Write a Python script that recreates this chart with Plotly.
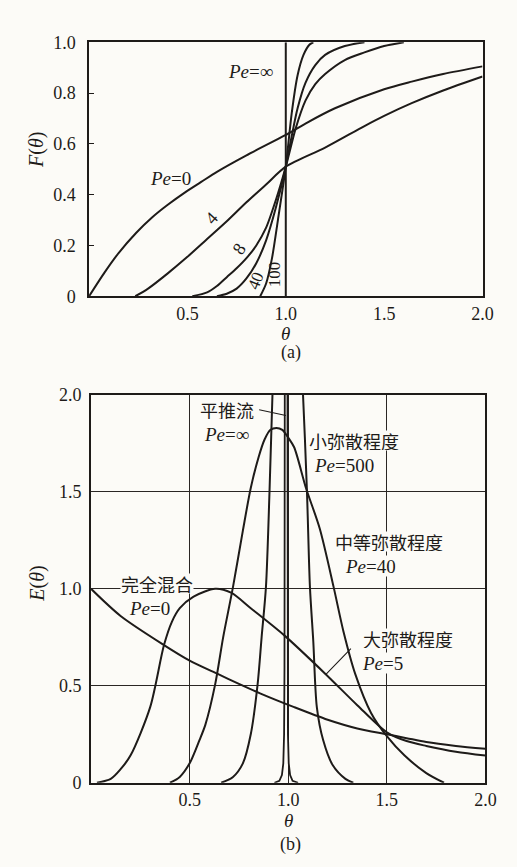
import plotly.graph_objects as go

# ---------------- (a) F(theta) curves ----------------
a_pe0_theta = [0, 0.08, 0.15, 0.24, 0.32, 0.4, 0.49, 0.57, 0.65, 0.80, 1.0, 1.1, 1.25, 1.5, 1.64, 1.8, 2.0]
a_pe0_F = [0, 0.095, 0.17, 0.25, 0.31, 0.36, 0.41, 0.45, 0.49, 0.555, 0.635, 0.68, 0.74, 0.815, 0.845, 0.875, 0.905]

a_pe4_theta = [0.235, 0.3, 0.4, 0.5, 0.6, 0.7, 0.8, 0.9, 1.0, 1.2, 1.4, 1.5, 1.64, 1.8, 2.0]
a_pe4_F = [0, 0.03, 0.09, 0.155, 0.225, 0.295, 0.37, 0.44, 0.51, 0.585, 0.67, 0.71, 0.76, 0.81, 0.865]

a_pe8_theta = [0.525, 0.6, 0.65, 0.7, 0.75, 0.8, 0.85, 0.9, 0.95, 1.0, 1.05, 1.1, 1.15, 1.2, 1.3, 1.4, 1.5, 1.6]
a_pe8_F = [0, 0.015, 0.04, 0.075, 0.11, 0.15, 0.2, 0.27, 0.38, 0.51, 0.66, 0.77, 0.835, 0.875, 0.93, 0.96, 0.985, 1.0]

a_pe40_theta = [0.65, 0.7, 0.75, 0.8, 0.85, 0.9, 0.95, 1.0, 1.03, 1.06, 1.1, 1.15, 1.2, 1.3, 1.4]
a_pe40_F = [0, 0.01, 0.03, 0.07, 0.13, 0.22, 0.35, 0.51, 0.63, 0.74, 0.84, 0.91, 0.95, 0.985, 1.0]

a_pe100_theta = [0.87, 0.9, 0.93, 0.96, 1.0, 1.03, 1.06, 1.09, 1.12, 1.14]
a_pe100_F = [0, 0.05, 0.15, 0.3, 0.51, 0.72, 0.87, 0.95, 0.99, 1.0]

a_peinf_theta = [1.0, 1.0]
a_peinf_F = [0.0, 1.0]

# ---------------- (b) E(theta) curves ----------------
b_pe0_theta = [0, 0.15, 0.37, 0.5, 0.645, 0.75, 0.86, 1.03, 1.2, 1.35, 1.5, 1.6, 1.7, 1.85, 2.0]
b_pe0_E = [1.0, 0.86, 0.71, 0.63, 0.56, 0.51, 0.46, 0.39, 0.325, 0.28, 0.25, 0.23, 0.21, 0.19, 0.175]

b_pe5_theta = [0.03, 0.1, 0.15, 0.2, 0.3, 0.37, 0.41, 0.45, 0.52, 0.63, 0.71, 0.81, 0.98, 1.19, 1.35, 1.5, 1.6, 1.7, 1.85, 2.0]
b_pe5_E = [0, 0.02, 0.07, 0.14, 0.39, 0.71, 0.83, 0.9, 0.96, 1.0, 0.98, 0.9, 0.76, 0.56, 0.40, 0.26, 0.215, 0.19, 0.16, 0.14]

b_pe40_theta = [0.40, 0.45, 0.5, 0.55, 0.58, 0.63, 0.67, 0.72, 0.77, 0.81, 0.85, 0.88, 0.91, 0.94, 0.97, 1.0,
                1.03, 1.09, 1.16, 1.23, 1.28, 1.34, 1.42, 1.5, 1.59, 1.7, 1.79]
b_pe40_E = [0, 0.03, 0.1, 0.22, 0.3, 0.51, 0.75, 1.01, 1.3, 1.52, 1.68, 1.77, 1.82, 1.83, 1.82, 1.78,
            1.73, 1.52, 1.31, 1.01, 0.78, 0.56, 0.36, 0.24, 0.14, 0.05, 0]

b_pe500_theta = [0.66, 0.72, 0.77, 0.81, 0.845, 0.865, 0.887, 0.905, 0.92, 0.95, 0.99, 1.03, 1.075, 1.095,
                 1.11, 1.127, 1.145, 1.177, 1.226, 1.29, 1.33]
b_pe500_E = [0, 0.03, 0.1, 0.25, 0.51, 0.75, 1.01, 1.5, 2.0, 2.9, 3.2, 2.9, 2.0, 1.5,
             1.01, 0.73, 0.39, 0.22, 0.09, 0.02, 0]

b_peinf_theta = [0.93, 0.955, 0.968, 0.975, 0.979, 0.981, 0.9885, 0.9965, 0.9985, 1.0025, 1.0095, 1.022, 1.05]
b_peinf_E = [0, 0.01, 0.04, 0.1, 0.25, 0.6, 8.0, 0.6, 0.25, 0.1, 0.04, 0.01, 0]

tick_vals_x = [0.5, 1.0, 1.5, 2.0]
tick_text_x = ["0.5", "1.0", "1.5", "2.0"]
a_tick_vals_y = [0, 0.2, 0.4, 0.6, 0.8, 1.0]
a_tick_text_y = ["0", "0.2", "0.4", "0.6", "0.8", "1.0"]
b_tick_vals_y = [0, 0.5, 1.0, 1.5, 2.0]
b_tick_text_y = ["0", "0.5", "1.0", "1.5", "2.0"]

INK = "#1e1b19"
BG = "#fcfbf7"
SERIF = "Liberation Serif, Times New Roman, serif"
CJK = "Noto Sans CJK SC, sans-serif"

W, H = 517, 867

fig = go.Figure()


def add_curve(xs, ys, xa, ya, shape="spline", width=2.0):
    fig.add_trace(go.Scatter(
        x=xs, y=ys, mode="lines", xaxis=xa, yaxis=ya,
        line=dict(color=INK, width=width, shape=shape, smoothing=0.8 if shape == "spline" else None),
        hoverinfo="skip", showlegend=False, cliponaxis=True))


add_curve(a_pe0_theta, a_pe0_F, "x", "y")
add_curve(a_pe4_theta, a_pe4_F, "x", "y")
add_curve(a_pe8_theta, a_pe8_F, "x", "y")
add_curve(a_pe40_theta, a_pe40_F, "x", "y")
add_curve(a_pe100_theta, a_pe100_F, "x", "y")
add_curve(a_peinf_theta, a_peinf_F, "x", "y", shape="linear")

add_curve(b_pe0_theta, b_pe0_E, "x2", "y2")
add_curve(b_pe5_theta, b_pe5_E, "x2", "y2")
add_curve(b_pe40_theta, b_pe40_E, "x2", "y2")
add_curve(b_pe500_theta, b_pe500_E, "x2", "y2")
add_curve(b_peinf_theta, b_peinf_E, "x2", "y2", shape="linear", width=1.8)

axis_common = dict(showline=True, mirror=True, linecolor=INK, linewidth=1.6,
                   zeroline=False, tickfont=dict(family=SERIF, size=18, color=INK))

fig.update_layout(
    width=W, height=H, autosize=False,
    margin=dict(l=0, r=0, t=0, b=0),
    paper_bgcolor=BG, plot_bgcolor=BG,
    showlegend=False,
    xaxis=dict(domain=[91 / W, 493 / W], range=[0, 2], anchor="y",
               tickvals=tick_vals_x, ticktext=tick_text_x, ticks="", showgrid=False,
               ticklabelstandoff=0, **axis_common),
    yaxis=dict(domain=[1 - 293 / H, 1 - 33 / H], range=[0, 1], anchor="x",
               tickvals=a_tick_vals_y, ticktext=a_tick_text_y, ticks="inside", ticklen=5,
               tickcolor=INK, tickwidth=1.3, showgrid=False, ticklabelstandoff=8, **axis_common),
    xaxis2=dict(domain=[93 / W, 496 / W], range=[0, 2], anchor="y2",
                tickvals=tick_vals_x, ticktext=tick_text_x, ticks="", showgrid=True,
                gridcolor="#2a2624", gridwidth=1.2, ticklabelstandoff=0, **axis_common),
    yaxis2=dict(domain=[1 - 791 / H, 1 - 394 / H], range=[0, 2], anchor="x2",
                tickvals=b_tick_vals_y, ticktext=b_tick_text_y, ticks="", showgrid=True,
                gridcolor="#2a2624", gridwidth=1.2, ticklabelstandoff=4, **axis_common),
)

ann = []


def txt(x, y, text, xref, yref, size=18, family=SERIF, angle=0, bg=None):
    d = dict(x=x, y=y, xref=xref, yref=yref, text=text, showarrow=False,
             font=dict(family=family, size=size, color=INK), textangle=angle,
             xanchor="center", yanchor="middle")
    if bg:
        d["bgcolor"] = bg
        d["borderpad"] = 0
        d["height"] = size + 1
    ann.append(d)


# (a) curve labels
txt(0.823, 0.885, "<i>Pe</i>=∞", "x", "y", size=19)
txt(0.414, 0.465, "<i>Pe</i>=0", "x", "y", size=19)
txt(0.623, 0.308, "4", "x", "y", size=18, angle=-48)
txt(0.763, 0.185, "8", "x", "y", size=18, angle=-55)
txt(0.848, 0.062, "40", "x", "y", size=17, angle=-68)
txt(0.943, 0.085, "100", "x", "y", size=17, angle=-90)

# (b) curve labels
txt(0.69, 1.925, "平推流", "x2", "y2", family=CJK, bg=BG)
txt(0.685, 1.80, "<i>Pe</i>=∞", "x2", "y2", size=19, bg=BG)
txt(1.335, 1.765, "小弥散程度", "x2", "y2", family=CJK, bg=BG)
txt(1.285, 1.64, "<i>Pe</i>=500", "x2", "y2", size=19, bg=BG)
txt(1.51, 1.245, "中等弥散程度", "x2", "y2", family=CJK, bg=BG)
txt(1.415, 1.12, "<i>Pe</i>=40", "x2", "y2", size=19, bg=BG)
txt(0.333, 1.03, "完全混合", "x2", "y2", family=CJK, size=18, bg=BG)
txt(0.298, 0.9, "<i>Pe</i>=0", "x2", "y2", size=19, bg=BG)
txt(1.608, 0.745, "大弥散程度", "x2", "y2", family=CJK, bg=BG)
txt(1.479, 0.615, "<i>Pe</i>=5", "x2", "y2", size=19, bg=BG)

# leader lines
ann.append(dict(x=0.988, y=1.894, ax=0.845, ay=1.925, xref="x2", yref="y2", axref="x2", ayref="y2",
                text="", showarrow=True, arrowhead=0, arrowwidth=1.1, arrowcolor=INK))
ann.append(dict(x=1.191, y=0.559, ax=1.325, ay=0.70, xref="x2", yref="y2", axref="x2", ayref="y2",
                text="", showarrow=True, arrowhead=0, arrowwidth=1.1, arrowcolor=INK))

# axis titles and captions
txt(38 / W, 1 - 143 / H, "<i>F</i>(<i>θ</i>)", "paper", "paper", size=20, angle=-90)
txt(38 / W, 1 - 587 / H, "<i>E</i>(<i>θ</i>)", "paper", "paper", size=20, angle=-90)
txt(292 / W, 1 - 331 / H, "<i>θ</i>", "paper", "paper", size=19)
txt(297 / W, 1 - 351 / H, "(a)", "paper", "paper", size=18)
txt(295 / W, 1 - 830 / H, "<i>θ</i>", "paper", "paper", size=19)
txt(297 / W, 1 - 854 / H, "(b)", "paper", "paper", size=18)

fig.update_layout(annotations=ann)

fig.write_html("out.html", config={"displayModeBar": False},
               post_script="document.body.style.margin='0';document.body.style.padding='0';"
                           "document.documentElement.style.overflow='hidden';")
